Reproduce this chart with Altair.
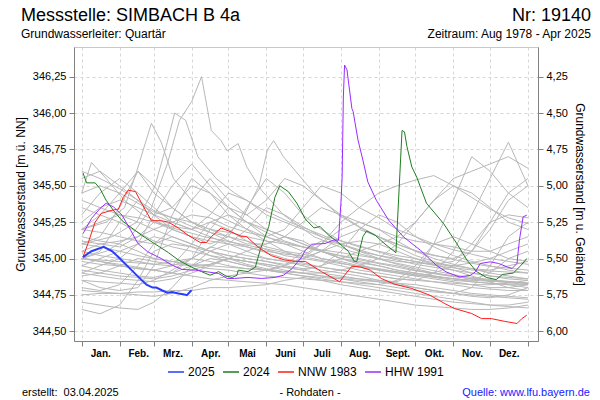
import altair as alt
import pandas as pd

# ---------------- data ----------------
MONTH_START = [0, 31, 59, 90, 120, 151, 181, 212, 243, 273, 304, 334, 365]
MONTH_NAMES = ["Jan.", "Feb.", "Mrz.", "Apr.", "Mai", "Juni", "Juli", "Aug.", "Sept.", "Okt.", "Nov.", "Dez.", ""]
Y_TICKS = [344.50, 344.75, 345.00, 345.25, 345.50, 345.75, 346.00, 346.25]
GROUND = 350.50  # m ü. NN  -> depth = GROUND - level

# half-monthly grid for the grey historical years
GRID = [0, 15, 31, 46, 59, 74, 90, 105, 120, 135, 151, 166, 181, 196, 212, 227, 243, 258, 273, 288, 304, 319, 334, 349, 365]
G01 = [345.30,345.45,345.55,345.45,345.35,345.25,345.20,345.15,345.10,345.05,345.00,344.98,344.95,344.92,344.90,344.88,344.85,344.83,344.80,344.78,344.76,344.75,344.74,344.73,344.72]
G02 = [345.55,345.60,345.50,345.40,345.30,345.25,345.20,345.25,345.30,345.25,345.20,345.15,345.10,345.05,345.00,344.97,344.95,344.92,344.90,344.88,344.86,344.85,344.90,345.00,345.05]
G03 = [344.65,344.62,344.68,344.85,345.05,345.10,345.08,345.02,344.98,344.95,344.92,344.90,344.88,344.86,344.84,344.82,344.80,344.78,344.76,344.74,344.72,344.70,344.68,344.67,344.66]
G04 = [344.85,344.80,344.78,344.80,344.95,345.30,345.55,345.45,345.30,345.20,345.12,345.05,345.00,344.98,344.95,344.92,344.90,344.88,344.86,344.84,344.82,344.80,344.79,344.78,344.78]
G05 = [344.75,344.76,344.76,344.77,344.77,344.78,344.78,344.80,344.80,344.81,344.82,344.85,344.87,344.85,344.82,344.80,344.78,344.76,344.74,344.72,344.70,344.69,344.68,344.68,344.70]
G06 = [345.10,345.15,345.35,345.60,345.50,345.35,345.25,345.20,345.15,345.10,345.10,345.15,345.12,345.05,345.00,344.96,344.92,344.90,344.88,344.90,344.95,345.05,345.25,345.45,345.55]
G07 = [345.20,345.18,345.15,345.12,345.10,345.20,345.40,345.55,345.40,345.30,345.20,345.15,345.10,345.05,345.00,344.98,344.95,344.92,344.90,344.88,344.86,344.84,344.83,344.82,344.80]
G08 = [345.00,345.05,345.25,345.40,345.30,345.20,345.15,345.10,345.15,345.35,345.55,345.45,345.30,345.20,345.12,345.08,345.05,345.02,345.00,344.97,344.95,344.93,344.92,344.95,344.98]
G09 = [344.95,344.92,344.90,344.88,344.87,344.90,345.00,345.20,345.35,345.25,345.15,345.10,345.05,345.00,344.97,344.94,344.92,344.90,344.88,344.86,344.84,344.82,344.80,344.80,344.82]
G10 = [345.40,345.35,345.30,345.25,345.20,345.15,345.10,345.05,345.02,345.00,344.98,344.95,344.93,344.95,345.05,345.20,345.30,345.25,345.15,345.08,345.02,344.98,344.95,344.92,344.90]
G11 = [344.70,344.68,344.66,344.65,344.70,344.80,344.95,345.00,344.98,344.95,344.92,344.90,344.88,344.87,344.86,344.85,344.84,344.83,344.82,344.80,344.78,344.76,344.75,344.74,344.73]
G12 = [345.25,345.35,345.40,345.35,345.30,345.35,345.50,345.45,345.35,345.30,345.40,345.55,345.50,345.40,345.30,345.25,345.20,345.15,345.12,345.10,345.08,345.05,345.05,345.10,345.15]
G13 = [344.90,344.95,345.00,345.10,345.15,345.12,345.08,345.05,345.02,345.00,344.98,344.96,345.00,345.10,345.20,345.25,345.20,345.12,345.05,345.00,344.96,344.93,344.90,344.88,344.86]
G14 = [345.05,345.10,345.12,345.15,345.20,345.25,345.30,345.28,345.22,345.18,345.15,345.20,345.35,345.50,345.45,345.35,345.28,345.20,345.15,345.10,345.06,345.03,345.00,344.98,344.96]
G15 = [345.15,345.12,345.10,345.05,345.00,344.98,344.95,344.93,344.92,344.90,344.88,344.87,344.86,344.85,344.84,344.83,344.82,344.85,344.95,345.10,345.15,345.10,345.05,345.00,344.98]
G16 = [344.80,344.78,344.82,344.95,345.10,345.15,345.10,345.05,345.00,344.96,344.93,344.91,344.90,344.88,344.86,344.84,344.82,344.80,344.78,344.77,344.76,344.80,344.95,345.15,345.25]
G17 = [345.35,345.30,345.45,345.60,345.45,345.35,345.25,345.18,345.12,345.08,345.04,345.00,344.97,344.94,344.92,344.90,344.88,344.86,344.85,344.84,344.83,344.82,344.82,344.83,344.85]
G18 = [344.98,344.96,344.95,344.93,344.92,344.95,345.10,345.25,345.20,345.12,345.06,345.02,345.00,345.05,345.15,345.20,345.15,345.10,345.05,345.02,345.00,345.05,345.20,345.40,345.50]
G19 = [345.10,345.08,345.05,345.02,345.00,344.98,344.96,344.95,344.94,344.93,344.92,344.91,344.90,344.90,344.92,344.95,345.00,345.10,345.25,345.40,345.50,345.45,345.35,345.25,345.20]
G20 = [345.00,344.98,344.95,344.93,344.92,344.90,344.95,345.05,345.10,345.08,345.05,345.03,345.02,345.10,345.25,345.35,345.45,345.50,345.54,345.57,345.50,345.42,345.34,345.28,345.24]
G21 = [344.90,344.88,344.86,344.85,344.84,344.86,344.90,344.95,345.00,344.98,344.95,344.92,344.90,344.88,344.87,344.86,344.85,344.84,344.90,345.10,345.40,345.70,345.60,345.45,345.35]
G22 = [345.05,345.02,345.00,344.98,344.96,344.95,345.00,345.08,345.05,345.02,345.00,344.98,344.96,344.94,344.92,344.90,344.88,344.86,344.85,344.90,345.05,345.30,345.55,345.80,345.50]
G23 = [345.20,345.25,345.30,345.28,345.25,345.22,345.20,345.30,345.45,345.40,345.30,345.25,345.20,345.15,345.10,345.06,345.02,345.00,344.98,344.96,344.95,344.97,345.00,345.05,345.10]
G24 = [344.85,344.84,344.83,344.82,344.85,344.92,345.00,344.98,344.95,344.93,344.92,344.95,345.05,345.12,345.10,345.05,345.00,344.96,344.93,344.90,344.88,344.86,344.85,344.84,344.83]
G25 = [345.45,345.50,345.45,345.38,345.32,345.28,345.25,345.20,345.18,345.15,345.12,345.10,345.08,345.06,345.04,345.02,345.00,344.98,344.97,344.96,344.98,345.10,345.25,345.30,345.28]
G26 = [344.95,345.00,345.05,345.10,345.30,345.50,345.65,345.50,345.35,345.25,345.18,345.12,345.08,345.05,345.02,345.00,344.97,344.95,344.92,344.90,344.88,344.86,344.85,344.84,344.83]
G27 = [345.12,345.10,345.08,345.15,345.25,345.20,345.15,345.12,345.10,345.20,345.35,345.30,345.22,345.15,345.10,345.05,345.02,344.99,344.96,344.94,344.92,344.90,344.88,344.87,344.86]
G28 = [344.88,344.90,344.95,345.00,344.98,344.96,344.95,344.96,345.00,345.05,345.10,345.15,345.25,345.35,345.30,345.22,345.15,345.08,345.02,344.98,344.94,344.90,344.88,344.86,344.85]
G29 = [345.60,345.55,345.48,345.40,345.33,345.28,345.22,345.18,345.15,345.12,345.08,345.05,345.03,345.00,344.98,344.95,344.93,344.91,344.89,344.87,344.85,344.84,344.83,344.82,344.82]
G30 = [344.78,344.77,344.76,344.75,344.74,344.76,344.80,344.85,344.88,344.90,344.92,344.95,345.00,345.05,345.10,345.12,345.10,345.05,345.00,344.96,344.92,344.88,344.84,344.80,344.78]
G31 = [345.00,344.98,344.96,344.94,344.92,344.90,344.88,344.86,344.85,344.84,344.83,344.82,344.80,344.78,344.76,344.74,344.72,344.70,344.68,344.67,344.66,344.65,344.65,344.66,344.68]
G32 = [345.20,345.30,345.25,345.18,345.12,345.08,345.05,345.02,345.00,344.98,344.96,344.94,344.92,344.90,344.88,344.86,344.84,344.82,344.80,344.78,344.76,344.74,344.73,344.75,344.80]
G33 = [344.92,344.90,344.88,344.87,344.86,344.88,344.92,344.96,345.00,344.98,344.96,344.94,344.92,344.95,345.00,345.05,345.10,345.15,345.25,345.40,345.55,345.60,345.65,345.70,345.62]

# grey years with sharp peaks (own day positions)
P1_DAYS = [0, 20, 40, 57, 70, 80, 90, 98, 106, 114, 119, 128, 135, 147, 165, 190, 220, 250, 280, 310, 340, 365]
P1_VALS = [345.00,345.05,345.15,345.35,345.65,345.95,346.08,346.25,345.88,345.81,345.74,345.79,345.63,345.47,345.30,345.15,345.05,344.98,344.93,344.88,344.85,344.83]
P2_DAYS = [0, 20, 35, 45, 57, 65, 75, 90, 110, 130, 150, 180, 210, 240, 270, 300, 330, 365]
P2_VALS = [345.20,345.25,345.35,345.60,345.93,345.80,345.55,345.40,345.30,345.22,345.15,345.08,345.02,344.97,344.92,344.88,344.85,344.82]
P3_DAYS = [0, 25, 45, 60, 70, 76, 85, 95, 110, 125, 145, 170, 200, 230, 260, 290, 320, 365]
P3_VALS = [345.10,345.15,345.25,345.50,345.80,346.00,345.95,345.70,345.55,345.45,345.35,345.25,345.15,345.08,345.00,344.95,344.92,344.90]
P4_DAYS = [0, 30, 60, 90, 110, 130, 145, 152, 157, 165, 175, 190, 210, 230, 250, 275, 300, 330, 365]
P4_VALS = [345.00,344.98,344.96,345.00,345.10,345.25,345.50,345.75,345.81,345.70,345.60,345.45,345.30,345.20,345.12,345.05,345.00,344.95,344.92]
P5_DAYS = [0, 8, 20, 35, 50, 70, 100, 130, 160, 200, 240, 280, 320, 365]
P5_VALS = [345.45,345.66,345.55,345.40,345.30,345.22,345.15,345.10,345.05,344.98,344.93,344.88,344.85,344.83]

# highlighted years
Y2025_DAYS = [1, 8, 18, 25, 30, 36, 42, 48, 53, 58, 61, 66, 70, 74, 79, 83, 86, 89, 90]
Y2025_VALS = [345.01,345.05,345.08,345.05,345.01,344.96,344.91,344.86,344.82,344.80,344.80,344.78,344.765,344.77,344.76,344.755,344.748,344.775,344.782]

Y2024_DAYS = [1,4,11,15,20,26,33,41,49,60,71,79,90,98,105,112,118,123,127,128,136,142,146,153,158,162,169,176,183,190,195,202,210,218,223,225,230,233,240,248,257,262,264,266,270,274,282,296,307,315,323,331,339,344,353,359,364]
Y2024_VALS = [345.59,345.52,345.52,345.48,345.40,345.33,345.26,345.21,345.16,345.10,345.04,344.99,344.94,344.91,344.885,344.91,344.88,344.87,344.885,344.92,344.91,344.94,345.06,345.22,345.42,345.50,345.46,345.38,345.27,345.21,345.22,345.16,345.11,345.05,344.98,344.98,345.15,345.19,345.16,345.10,345.04,345.88,345.87,345.77,345.63,345.56,345.38,345.24,345.10,344.99,344.91,344.87,344.855,344.89,344.90,344.95,345.00]

NNW_DAYS = [1,5,11,16,24,30,34,38,44,49,57,65,71,79,87,97,102,106,114,123,131,135,144,155,166,175,183,196,211,215,221,228,236,245,256,270,285,297,305,319,327,335,346,356,360,364]
NNW_VALS = [345.01,345.10,345.25,345.31,345.33,345.34,345.42,345.47,345.46,345.38,345.26,345.26,345.25,345.21,345.16,345.11,345.11,345.15,345.21,345.18,345.15,345.15,345.08,345.02,344.99,344.98,344.98,344.91,344.84,344.885,344.947,344.942,344.92,344.863,344.823,344.794,344.747,344.69,344.656,344.622,344.587,344.587,344.568,344.553,344.587,344.61]

HHW_DAYS = [1,8,15,20,26,33,40,46,54,65,74,82,93,103,112,119,125,136,147,158,165,172,180,183,188,199,206,210,212,213,214,215,217,218,221,222,226,230,234,241,251,263,277,290,298,309,318,322,326,334,341,348,352,356,358,361,364]
HHW_VALS = [345.17,345.275,345.344,345.38,345.355,345.298,345.195,345.103,345.046,345.0,344.954,344.925,344.92,344.908,344.897,344.863,344.863,344.87,344.863,344.87,344.885,344.93,345.011,345.057,345.098,345.103,345.126,345.126,345.38,345.56,346.11,346.33,346.296,346.227,346.03,346.01,345.814,345.676,345.527,345.40,345.264,345.15,345.057,344.954,344.908,344.873,344.885,344.908,344.966,344.977,344.966,344.942,344.932,344.966,345.126,345.286,345.298]

SERIES_NAMES = ["2025", "2024", "NNW 1983", "HHW 1991"]
SERIES_COLORS = ["#2a3cff", "#1f7d1f", "#ff1c1c", "#9a2cff"]

# ---------------- tables ----------------
grid_series = [G01, G02, G03, G04, G05, G06, G07, G08, G09, G10, G11, G12, G13, G14, G15, G16, G17,
               G18, G19, G20, G21, G22, G23, G24, G25, G26, G27, G28, G29, G30, G31, G32, G33]
rows = []
for i, vals in enumerate(grid_series):
    for d, v in zip(GRID, vals):
        rows.append({"day": d, "value": v, "series": f"g{i:02d}"})
for j, (days, vals) in enumerate([(P1_DAYS, P1_VALS), (P2_DAYS, P2_VALS), (P3_DAYS, P3_VALS),
                                  (P4_DAYS, P4_VALS), (P5_DAYS, P5_VALS)]):
    for d, v in zip(days, vals):
        rows.append({"day": d, "value": v, "series": f"p{j}"})
gray_df = pd.DataFrame(rows)

crows = []
for name, days, vals in [("2024", Y2024_DAYS, Y2024_VALS), ("NNW 1983", NNW_DAYS, NNW_VALS),
                         ("HHW 1991", HHW_DAYS, HHW_VALS), ("2025", Y2025_DAYS, Y2025_VALS)]:
    for k, (d, v) in enumerate(zip(days, vals)):
        crows.append({"day": d, "value": v, "series": name, "order": k})
col_df = pd.DataFrame(crows)

# ---------------- chart ----------------
FONT = "Liberation Sans"
X_DOMAIN = [-6.3, 373.2]
Y_DOMAIN = [344.433, 346.454]

month_arr = "[" + ",".join(f"'{m}'" for m in MONTH_NAMES) + "]"
start_arr = "[" + ",".join(str(m) for m in MONTH_START) + "]"

x_enc = alt.X(
    "day:Q",
    scale=alt.Scale(domain=X_DOMAIN, nice=False, zero=False),
    axis=alt.Axis(
        values=MONTH_START, title=None,
        labelExpr=f"{month_arr}[indexof({start_arr}, datum.value)]",
        labelOffset=18.6, labelFlush=False, labelOverlap=False,
        labelFontSize=10, labelFontWeight="bold", labelPadding=2,
        tickSize=5, tickColor="#808080", domainColor="#808080",
        grid=True, gridDash=[3, 3], gridColor="#d6d6d6",
    ),
)
y_scale = alt.Scale(domain=Y_DOMAIN, nice=False, zero=False)

gray = alt.Chart(gray_df).mark_line(color="#b8b8b8", strokeWidth=1).encode(
    x=x_enc,
    y=alt.Y("value:Q", scale=y_scale, axis=alt.Axis(
        values=Y_TICKS, title="Grundwasserstand [m ü. NN]",
        labelExpr="replace(format(datum.value, '.2f'), '.', ',')",
        labelFontSize=11, labelPadding=3, tickSize=5, tickColor="#808080", domainColor="#808080",
        grid=True, gridDash=[3, 3], gridColor="#d6d6d6",
        titleFontSize=12, titlePadding=5,
    )),
    detail="series:N",
)

colored = alt.Chart(col_df).mark_line().encode(
    x=x_enc,
    y=alt.Y("value:Q", scale=y_scale, axis=None),
    color=alt.Color("series:N", scale=alt.Scale(domain=SERIES_NAMES, range=SERIES_COLORS),
                    legend=alt.Legend(orient="none", legendX=93, legendY=316, direction="horizontal",
                                      title=None, symbolType="stroke", symbolSize=256,
                                      symbolStrokeWidth=1.5, labelFontSize=12, labelFont=FONT,
                                      labelColor="black", labelOffset=3, columnPadding=5)),
    strokeWidth=alt.condition(alt.datum.series == "2025", alt.value(2), alt.value(1)),
    order="order:Q",
)

right_axis = alt.Chart(gray_df).mark_line(strokeOpacity=0).encode(
    x=x_enc,
    y=alt.Y("value:Q", scale=y_scale, axis=alt.Axis(
        orient="right", values=Y_TICKS, title="Grundwasserstand [m u. Gelände]",
        labelExpr=f"replace(format({GROUND} - datum.value, '.2f'), '.', ',')",
        labelFontSize=11, labelPadding=3, tickSize=5, tickColor="#808080", domainColor="#808080",
        grid=False, titleFontSize=12, titlePadding=5,
    )),
    detail="series:N",
)

one = pd.DataFrame({"k": [0]})


def label(text, x, y, size, align="left", color="black", weight="normal"):
    return alt.Chart(one).mark_text(
        text=text, align=align, baseline="alphabetic", fontSize=size, font=FONT,
        color=color, fontWeight=weight,
    ).encode(x=alt.value(x), y=alt.value(y))


OX, OY = 74, 47  # plot origin in page pixels
texts = [
    label("Messstelle: SIMBACH B 4a", 21 - OX, 21 - OY, 18),
    label("Nr: 19140", 591 - OX, 21 - OY, 18, align="right"),
    label("Grundwasserleiter: Quartär", 21 - OX, 38 - OY, 12),
    label("Zeitraum: Aug 1978 - Apr 2025", 591 - OX, 38 - OY, 12, align="right"),
    label("erstellt:\u00a0 03.04.2025", 22 - OX, 396 - OY, 11),
    label("- Rohdaten -", 310 - OX, 396 - OY, 11, align="center"),
    label("Quelle: www.lfu.bayern.de", 590 - OX, 396 - OY, 11, align="right", color="#1a1aff"),
]

chart = alt.layer(gray, colored, right_axis, *texts).resolve_axis(y="independent").properties(
    width=464, height=294,
    padding={"left": OX, "top": OY, "right": 600 - OX - 464, "bottom": 400 - OY - 294},
    autosize=alt.AutoSizeParams(type="none"),
    background="white",
).configure_view(stroke="#c8c8c8").configure_axis(
    labelFont=FONT, titleFont=FONT, labelColor="black", titleColor="black", titleFontWeight="normal",
)

chart.save("out.html", embed_options={"renderer": "svg", "actions": False})
